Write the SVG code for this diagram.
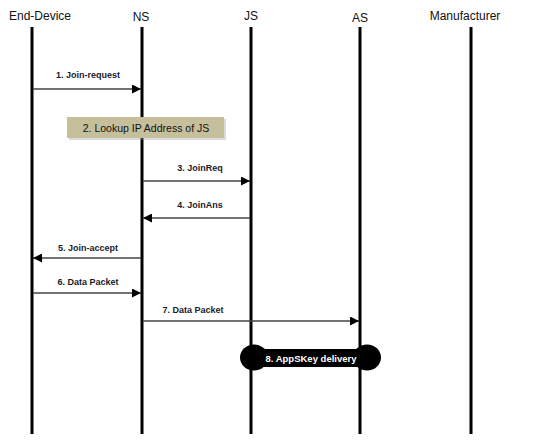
<svg xmlns="http://www.w3.org/2000/svg" width="536" height="441" viewBox="0 0 536 441">
<style>
.hdr{font-family:"Liberation Sans",Arial,sans-serif;font-size:12px;fill:#111;text-anchor:middle}
.life{stroke:#000;stroke-width:3}
.msg{stroke:#444;stroke-width:1.3;fill:none}
.lbl{font-family:"Liberation Sans",Arial,sans-serif;font-size:9px;font-weight:bold;fill:#1a1a2a;text-anchor:middle}
</style>
<defs>
<marker id="ah" viewBox="0 0 10 10" refX="10" refY="5" markerWidth="10" markerHeight="9" markerUnits="userSpaceOnUse" orient="auto">
<path d="M0,0 L10,5 L0,10 Z" fill="#000"/>
</marker>
</defs>
<rect width="536" height="441" fill="#fff"/>
<g id="end-device"><text class="hdr" x="40" y="20">End-Device</text><line class="life" x1="32" y1="27" x2="32" y2="434"/></g>
<g id="ns"><text class="hdr" x="141" y="21">NS</text><line class="life" x1="142" y1="27" x2="142" y2="434"/></g>
<g id="js"><text class="hdr" x="251" y="20">JS</text><line class="life" x1="251" y1="27" x2="251" y2="434"/></g>
<g id="as"><text class="hdr" x="360" y="22">AS</text><line class="life" x1="360" y1="27" x2="360" y2="434"/></g>
<g id="manufacturer"><text class="hdr" x="465" y="20">Manufacturer</text><line class="life" x1="471" y1="27" x2="471" y2="434"/></g>
<g id="lookup">
<rect x="69" y="119" width="157" height="21" fill="#999" opacity="0.35"/>
<rect x="67" y="117" width="157" height="21" fill="#c6bf9c"/>
<text x="146" y="131.5" font-family="Liberation Sans,Arial,sans-serif" font-size="10.5" fill="#111" text-anchor="middle">2. Lookup IP Address of JS</text>
</g>
<g id="connectors">
<line class="msg" x1="33" y1="89" x2="141" y2="89" marker-end="url(#ah)"/>
<text class="lbl" x="88" y="78">1. Join-request</text>
<line class="msg" x1="143" y1="181" x2="250" y2="181" marker-end="url(#ah)"/>
<text class="lbl" x="200" y="171">3. JoinReq</text>
<line class="msg" x1="250" y1="218" x2="143" y2="218" marker-end="url(#ah)" stroke="#111"/>
<text class="lbl" x="200" y="208">4. JoinAns</text>
<line class="msg" x1="141" y1="258" x2="33" y2="258" marker-end="url(#ah)"/>
<text class="lbl" x="88" y="251">5. Join-accept</text>
<line class="msg" x1="33" y1="293" x2="141" y2="293" marker-end="url(#ah)"/>
<text class="lbl" x="88" y="285">6. Data Packet</text>
<line class="msg" x1="143" y1="321" x2="359" y2="321" marker-end="url(#ah)"/>
<text class="lbl" x="193" y="313">7. Data Packet</text>
</g>
<g id="appskey">
<rect x="252" y="349" width="116" height="18" fill="#000"/>
<ellipse cx="254" cy="357.5" rx="14" ry="13" fill="#000"/>
<ellipse cx="367" cy="357.5" rx="14" ry="13" fill="#000"/>
<text x="311" y="362" font-family="Liberation Sans,Arial,sans-serif" font-size="9.5" font-weight="bold" fill="#fff" text-anchor="middle">8. AppSKey delivery</text>
</g>
</svg>
